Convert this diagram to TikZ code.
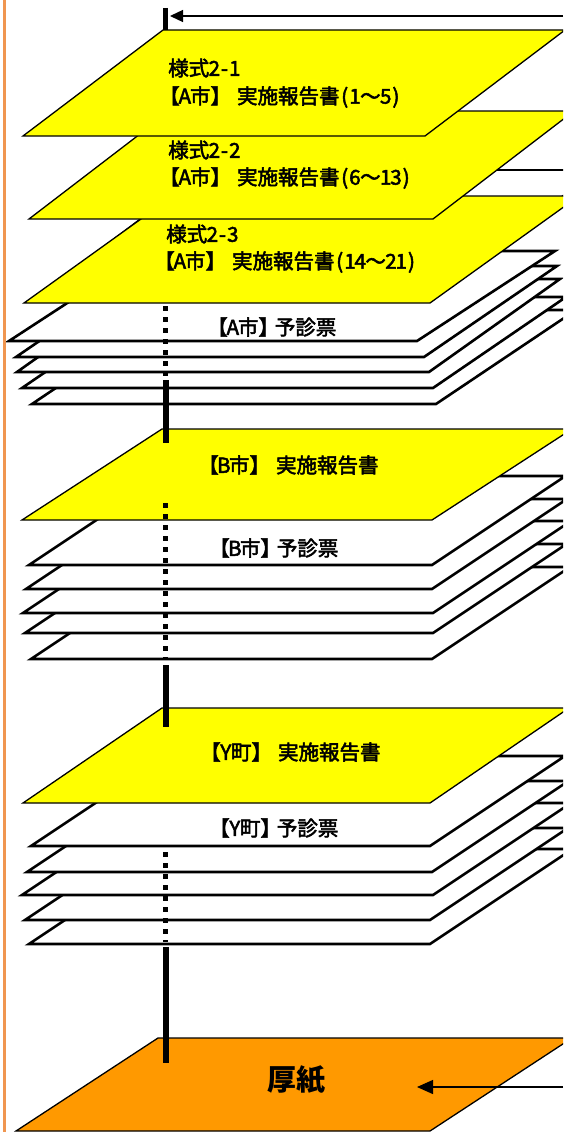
\documentclass[tikz,border=0pt]{standalone}
\usepackage{fontspec}
\newfontfamily\jp{Noto Sans CJK JP}[FakeBold=2.5]
\newfontfamily\jpb{Noto Sans CJK JP}
\usetikzlibrary{arrows.meta}
\definecolor{sheetyellow}{RGB}{255,255,0}
\definecolor{sheetorange}{RGB}{255,153,0}
\definecolor{edgeorange}{RGB}{240,150,80}
\newcommand\sheetpath[6]{(#1,#3) -- (#2,#3) -- (#5,#6) -- (#4,#6) -- cycle}
\newcommand\hw[1]{\makebox[0.5em][c]{#1}}
\tikzset{
  yellowsheet/.style={fill=sheetyellow, draw=black, line width=1.3pt, line join=miter},
  whitesheet/.style={fill=white, draw=black, line width=2.6pt, line join=miter},
  orangesheet/.style={fill=sheetorange, draw=black, line width=1.3pt, line join=miter},
  stemsolid/.style={line width=6pt, black},
  stemdots/.style={line width=5pt, black, dash pattern=on 5pt off 6pt},
  label/.style={font=\jp\fontsize{20.5}{24}\selectfont, inner sep=0pt, anchor=west},
  pointer/.style={line width=1.3pt, black},
}
\begin{document}
\begin{tikzpicture}[x=1pt, y=-1pt]
\useasboundingbox (0,0) rectangle (563,1132);
\clip (0,0) rectangle (563,1132);
\fill[white] (0,0) rectangle (563,1132);

% ---------- group A ----------
\draw[whitesheet] \sheetpath{172}{576}{310}{32}{436}{404};
\draw[whitesheet] \sheetpath{155}{566}{297}{22}{433}{388};
\draw[whitesheet] \sheetpath{148}{560}{279}{17}{429}{372};
\draw[whitesheet] \sheetpath{149}{557}{266}{16}{424}{357};
\draw[whitesheet] \sheetpath{147}{555}{251}{9}{417}{341};
\draw[whitesheet, line width=1.6pt] \sheetpath{205}{597}{170}{60}{452}{280};
\draw[yellowsheet] \sheetpath{173}{579}{196}{24}{430}{303};
\draw[yellowsheet] \sheetpath{170}{574}{111}{29}{433}{219};
\draw[yellowsheet] \sheetpath{163}{565}{30}{23}{425}{136};

\node[label] (a1a) at (168,68) {様式\hw{2}\hw{-}\hw{1}};
\node[label] (a1b) at (159,97) {【\hw{A}市】\hspace{0.3em}実施報告書\hw{(}\hw{1}～\hw{5}\hw{)}};
\node[label] (a2a) at (168,150) {様式\hw{2}\hw{-}\hw{2}};
\node[label] (a2b) at (159,178) {【\hw{A}市】\hspace{0.3em}実施報告書\hw{(}\hw{6}～\hw{1}\hw{3}\hw{)}};
\node[label] (a3a) at (166,234) {様式\hw{2}\hw{-}\hw{3}};
\node[label] (a3b) at (154,262) {【\hw{A}市】\hspace{0.3em}実施報告書\hw{(}\hw{1}\hw{4}～\hw{2}\hw{1}\hw{)}};
\node[label] (ayo) at (207,327) {【\hw{A}市】\hspace{-0.2em}予診票};

% ---------- group B ----------
\draw[whitesheet] \sheetpath{169}{570}{567}{31}{432}{659};
\draw[whitesheet] \sheetpath{158.5}{566.5}{544}{25}{433}{633};
\draw[whitesheet] \sheetpath{161}{571}{521}{23}{433}{613};
\draw[whitesheet] \sheetpath{161}{567}{499}{26}{432}{589};
\draw[whitesheet] \sheetpath{162.5}{565.5}{476}{29}{432}{565};
\draw[yellowsheet] \sheetpath{162}{572}{429}{22}{432}{520};
\node[label] (bjh) at (198,465) {【\hw{B}市】\hspace{0.3em}実施報告書};
\node[label] (byo) at (209,548) {【\hw{B}市】\hspace{-0.2em}予診票};

% ---------- group Y ----------
\draw[whitesheet] \sheetpath{171.5}{572.5}{849}{29}{430}{944};
\draw[whitesheet] \sheetpath{163}{568}{828}{25}{430}{920};
\draw[whitesheet] \sheetpath{160}{571}{803}{22}{433}{895};
\draw[whitesheet] \sheetpath{163.5}{568.5}{781}{27}{432}{872};
\draw[whitesheet] \sheetpath{166}{565}{756}{31}{430}{846};
\draw[yellowsheet] \sheetpath{162}{569}{708}{23}{430}{803};
\node[label] (yjh) at (200,752) {【\hw{Y}町】\hspace{0.3em}実施報告書};
\node[label] (yyo) at (209,828) {【\hw{Y}町】\hspace{-0.2em}予診票};

% ---------- board ----------
\draw[orangesheet] \sheetpath{158}{572}{1038}{16}{430}{1131};
\node[font=\jpb\bfseries\fontsize{29}{32}\selectfont, inner sep=0pt] (board) at (296,1080) {厚紙};

% ---------- binding stem ----------
\draw[line width=5pt] (165.5,8) -- (165.5,30);
\draw[stemdots] (165,306) -- (165,376);
\draw[stemsolid] (166,380) -- (166,443);
\draw[stemdots] (165,503) -- (165,660);
\draw[stemsolid] (166,665) -- (166,727);
\draw[stemdots] (165,852) -- (165,942);
\draw[stemsolid] (166,947) -- (166,1063);

% ---------- pointers ----------
\coordinate (topR) at (563,16);
\coordinate (topTip) at (170,16);
\draw[pointer, -{Triangle[length=13pt,width=12pt]}] (topR) -- (topTip);
\coordinate (botR) at (563,1087);
\coordinate (botTip) at (417,1087);
\draw[pointer, -{Triangle[length=16pt,width=14pt]}] (botR) -- (botTip);

% ---------- left margin line ----------
\draw[edgeorange, line width=3.5pt] (4.5,0) -- (4.5,1132);
\end{tikzpicture}
\end{document}
